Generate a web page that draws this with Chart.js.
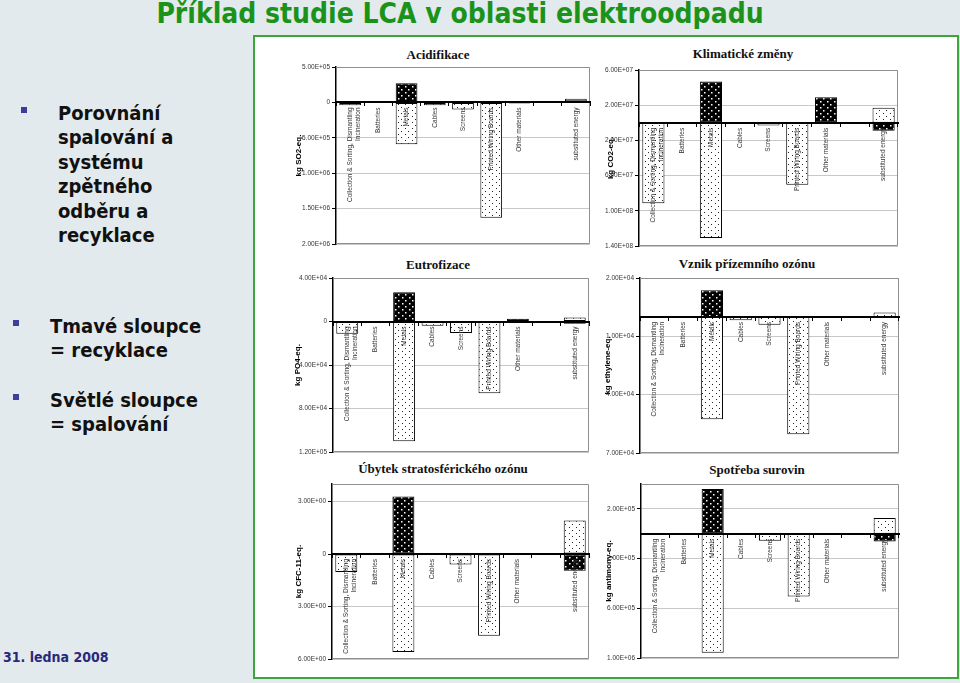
<!DOCTYPE html>
<html>
<head>
<meta charset="utf-8">
<script src="https://cdn.jsdelivr.net/npm/chart.js@4/dist/chart.umd.min.js"></script>
<style>
html,body{margin:0;padding:0;}
body{width:960px;height:683px;background:#e3eaed;position:relative;overflow:hidden;font-family:"DejaVu Sans Condensed","DejaVu Sans",sans-serif;font-stretch:condensed;}
.t{position:absolute;white-space:nowrap;font-weight:bold;}
#slideTitle{left:0;top:-3px;width:920px;text-align:center;color:#1b931b;font-size:28px;line-height:34px;}
.bul{position:absolute;width:6px;height:6px;background:#3d3d9e;}
.txt{color:#111;font-size:20px;line-height:24.4px;}
#date{left:3px;top:648px;color:#29297a;font-size:14px;line-height:18px;}
#box{position:absolute;left:253px;top:35px;width:706px;height:644px;box-sizing:border-box;border:2px solid #3ea43e;background:#fff;}
canvas{position:absolute;}
.ct{position:absolute;width:300px;text-align:center;font-family:"Liberation Serif","Times New Roman",serif;font-weight:bold;font-size:13px;line-height:16px;color:#111;white-space:nowrap;}
</style>
</head>
<body>
<div id="slideTitle" class="t">Příklad studie LCA v oblasti elektroodpadu</div>
<div class="bul" style="left:21px;top:107px;"></div>
<div class="t txt" style="left:58px;top:101px;">Porovnání<br>spalování a<br>systému<br>zpětného<br>odběru a<br>recyklace</div>
<div class="bul" style="left:13px;top:320px;"></div>
<div class="t txt" style="left:50px;top:314px;">Tmavé sloupce<br>= recyklace</div>
<div class="bul" style="left:13px;top:394px;"></div>
<div class="t txt" style="left:50px;top:388px;">Světlé sloupce<br>= spalování</div>
<div id="date" class="t">31. ledna 2008</div>
<div id="box"></div>

<div class="ct" style="left:288px;top:47px;">Acidifikace</div>
<div class="ct" style="left:593px;top:46px;">Klimatické změny</div>
<div class="ct" style="left:288px;top:257px;">Eutrofizace</div>
<div class="ct" style="left:597px;top:256px;">Vznik přízemního ozónu</div>
<div class="ct" style="left:293px;top:461px;">Úbytek stratosférického ozónu</div>
<div class="ct" style="left:607px;top:462px;">Spotřeba surovin</div>

<canvas id="c1"></canvas>
<canvas id="c2"></canvas>
<canvas id="c3"></canvas>
<canvas id="c4"></canvas>
<canvas id="c5"></canvas>
<canvas id="c6"></canvas>

<script>
// ---- categories ----
const categories = [
  ["Collection & Sorting, Dismantling", "Incineration"],
  "Batteries", "Metals", "Cables", "Screens",
  "Printed Wiring Boards", "Other materials", "", "substituted energy"
];

// ---- Acidifikace (kg SO2-eq.) ----
const acidRecycling    = [-5e3, 0, 2.7e5, -1e4, -1e4, -1e4, -1.5e4, 0, 3e4];
const acidIncineration = [-4e4, 0, -5.9e5, -4e4, -1.0e5, -1.63e6, 0, 0, 5e4];
const acidTicks      = [-2e6, -1.5e6, -1e6, -5e5, 0, 5e5];
const acidTickLabels = ["2.00E+06", "1.50E+06", "1.00E+06", "5.00E+05", "0", "5.00E+05"];

// ---- Klimatické změny (kg CO2-eq.) ----
const climRecycling    = [-1e6, 0, 4.7e7, 1e6, -1e6, 1e6, 2.9e7, 0, -9e6];
const climIncineration = [-9.15e7, 0, -1.31e8, 0, -3e6, -7.05e7, 0, 0, 1.7e7];
const climTicks      = [-1.4e8, -1e8, -6e7, -2e7, 2e7, 6e7];
const climTickLabels = ["1.40E+08", "1.00E+08", "6.00E+07", "2.00E+07", "2.00E+07", "6.00E+07"];

// ---- Eutrofizace (kg PO4-eq.) ----
const eutrRecycling    = [0, 5e2, 2.7e4, 0, 0, -1e3, 2.5e3, 0, -2e3];
const eutrIncineration = [-1.13e4, 0, -1.1e5, -4e3, -1.05e4, -6.6e4, 0, 0, 3.7e3];
const eutrTicks      = [-1.2e5, -8e4, -4e4, 0, 4e4];
const eutrTickLabels = ["1.20E+05", "8.00E+04", "4.00E+04", "0", "4.00E+04"];

// ---- Vznik přízemního ozónu (kg ethylene-eq.) ----
const ozonRecycling    = [3e2, 0, 1.37e4, 0, 0, 0, 0, 0, -5e2];
const ozonIncineration = [0, 0, -5.27e4, -1.7e3, -4e3, -6.04e4, 0, 0, 2.2e3];
const ozonTicks      = [-7e4, -4e4, -1e4, 2e4];
const ozonTickLabels = ["7.00E+04", "4.00E+04", "1.00E+04", "2.00E+04"];

// ---- Úbytek stratosférického ozónu (kg CFC-11-eq.) ----
const stratRecycling    = [0.05, 0, 3.28, 0.03, 0.05, 0.05, 0.05, 0, -0.96];
const stratIncineration = [-1.03, 0, -5.6, -0.03, -0.6, -4.67, 0, 0, 1.92];
const stratTicks      = [-6, -3, 0, 3];
const stratTickLabels = ["6.00E+00", "3.00E+00", "0", "3.00E+00"];

// ---- Spotřeba surovin (kg antimony-eq.) ----
const resRecycling    = [4e3, 0, 3.6e5, 0, 0, 5e3, 0, 0, -6.2e4];
const resIncineration = [0, 0, -9.57e5, 0, -5.6e4, -5.05e5, 0, 0, 1.26e5];
const resTicks      = [-1e6, -6e5, -2e5, 2e5];
const resTickLabels = ["1.00E+06", "6.00E+05", "2.00E+05", "2.00E+05"];

Chart.defaults.font.family = '"Liberation Sans Narrow","Liberation Sans",Arial,sans-serif';
Chart.defaults.animation = false;

function makePattern(bg, dot, d) {
  const c = document.createElement('canvas');
  c.width = 7; c.height = 6;
  const g = c.getContext('2d');
  g.fillStyle = bg; g.fillRect(0, 0, 7, 6);
  g.fillStyle = dot;
  g.fillRect(1, 1, d, d);
  g.fillRect(4, 4, d, d);
  return g.createPattern(c, 'repeat');
}
const darkFill = makePattern('#000', '#fff', 1.5);
const lightFill = makePattern('#fff', '#222', 1);

const plotFrame = {
  id: 'plotFrame',
  beforeDatasetsDraw(chart) {
    const {ctx, chartArea: a} = chart;
    ctx.save();
    ctx.strokeStyle = '#8f8f8f';
    ctx.lineWidth = 1;
    ctx.beginPath();
    ctx.moveTo(a.left, a.top + 0.5);
    ctx.lineTo(a.right - 0.5, a.top + 0.5);
    ctx.lineTo(a.right - 0.5, a.bottom - 0.5);
    ctx.lineTo(a.left, a.bottom - 0.5);
    ctx.stroke();
    ctx.restore();
  }
};

function drawPanel(id, box, recycling, incineration, yMin, yMax, yTicks, yTickLabels, yTitle, titlePad) {
  const W = 44;
  const cv = document.getElementById(id);
  cv.width = (box.R + 4) - (box.L - W);
  cv.height = (box.B + 6) - (box.T - 6);
  cv.style.left = (box.L - W) + 'px';
  cv.style.top = (box.T - 6) + 'px';
  new Chart(cv, {
    type: 'bar',
    data: {
      labels: categories,
      datasets: [
        {label: 'Recyklace', data: recycling, backgroundColor: darkFill, borderColor: '#000',
         borderWidth: 1, borderSkipped: false, barPercentage: 0.77, categoryPercentage: 1},
        {label: 'Spalování', data: incineration, backgroundColor: lightFill, borderColor: '#000',
         borderWidth: 1, borderSkipped: false, barPercentage: 0.77, categoryPercentage: 1}
      ]
    },
    options: {
      responsive: false,
      animation: false,
      layout: {padding: {left: 0, right: 4, top: 6, bottom: 6}},
      plugins: {legend: {display: false}, tooltip: {enabled: false}, title: {display: false}},
      scales: {
        x: {
          position: {y: 0},
          stacked: true,
          offset: true,
          grid: {offset: true, drawOnChartArea: false, drawTicks: true, tickLength: 3, tickColor: '#000', z: 1},
          border: {display: true, color: '#000', width: 2, z: 1},
          ticks: {autoSkip: false, maxRotation: 90, minRotation: 90, padding: 2, color: '#333',
                  font: {size: 6.5}, z: 1}
        },
        y: {
          position: 'left',
          min: yMin, max: yMax,
          stacked: false,
          afterBuildTicks: s => { s.ticks = yTicks.map(v => ({value: v})); },
          afterFit: s => { s.width = W; },
          grid: {color: '#c8c8c8', lineWidth: 1, drawTicks: true, tickLength: 4, tickColor: '#000'},
          border: {display: true, color: '#000', width: 1.5},
          ticks: {color: '#333', padding: 2, font: {size: 6.5},
                  callback: (v, i) => yTickLabels[i]},
          title: {display: true, text: yTitle, color: '#000',
                  font: {size: 8, weight: 'bold', family: '"Liberation Sans",Arial,sans-serif'},
                  padding: {top: titlePad, bottom: 0}}
        }
      }
    },
    plugins: [plotFrame]
  });
}

drawPanel('c1', {L: 336, T: 67, R: 590, B: 244}, acidRecycling, acidIncineration, -2e6, 5e5, acidTicks, acidTickLabels, 'kg SO2-eq.', 1.5);
drawPanel('c2', {L: 639, T: 70, R: 898, B: 246}, climRecycling, climIncineration, -1.4e8, 6e7, climTicks, climTickLabels, 'kg CO2-eq.', 10.5);
drawPanel('c3', {L: 333, T: 278, R: 589, B: 452}, eutrRecycling, eutrIncineration, -1.2e5, 4e4, eutrTicks, eutrTickLabels, 'kg PO4-eq.', 3.5);
drawPanel('c4', {L: 640, T: 278, R: 899, B: 453}, ozonRecycling, ozonIncineration, -7e4, 2e4, ozonTicks, ozonTickLabels, 'kg ethylene-eq.', 6.5);
drawPanel('c5', {L: 332, T: 484, R: 589, B: 659}, stratRecycling, stratIncineration, -6, 4, stratTicks, stratTickLabels, 'kg CFC-11-eq.', 5.5);
drawPanel('c6', {L: 641, T: 484, R: 899, B: 658}, resRecycling, resIncineration, -1e6, 4e5, resTicks, resTickLabels, 'kg antimony-eq.', 6.5);
</script>
</body>
</html>
